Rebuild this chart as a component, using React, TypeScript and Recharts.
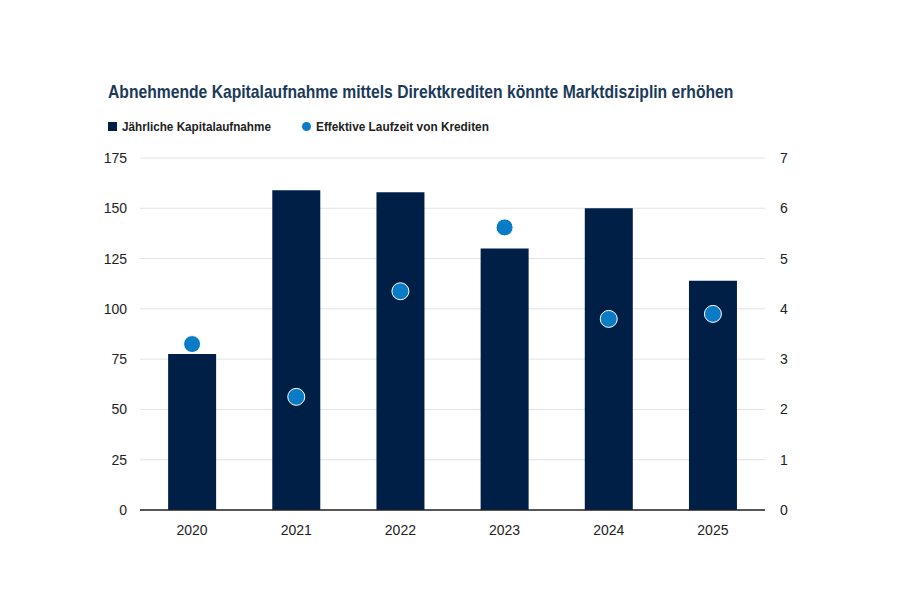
import { ComposedChart, Bar, Scatter, XAxis, YAxis, CartesianGrid } from "recharts";

const YEARS = ["2020", "2021", "2022", "2023", "2024", "2025"];
const KAPITAL = [77.5, 159, 158, 130, 150, 114];
const LAUFZEIT = [3.3, 2.25, 4.35, 5.62, 3.8, 3.9];
const LEFT_TICKS = [0, 25, 50, 75, 100, 125, 150, 175];
const RIGHT_TICKS = [0, 1, 2, 3, 4, 5, 6, 7];

const NAVY = "#001f47";
const BLUE = "#0a7cc6";
const FONT = "'Liberation Sans', Arial, sans-serif";

const data = YEARS.map((year, i) => ({ year, kapital: KAPITAL[i], laufzeit: LAUFZEIT[i] }));

const tick = { fontSize: 14, fill: "#222", fontFamily: FONT };

const Dot = (props: any) => (
  <circle cx={props.cx} cy={props.cy} r={8.5} fill={BLUE} stroke="#fff" strokeWidth={1} />
);

export default function App() {
  return (
    <div style={{ position: "relative", width: 900, height: 600, margin: -8, background: "#fff", fontFamily: FONT }}>
      <div
        style={{
          position: "absolute",
          left: 108,
          top: 81,
          fontSize: 19,
          fontWeight: 700,
          color: "#1b3a5a",
          whiteSpace: "nowrap",
          transform: "scaleX(0.825)",
          transformOrigin: "left top",
        }}
      >
        Abnehmende Kapitalaufnahme mittels Direktkrediten könnte Marktdisziplin erhöhen
      </div>
      <div
        style={{
          position: "absolute",
          left: 108,
          top: 119,
          fontSize: 13,
          fontWeight: 700,
          color: "#222",
          display: "flex",
          alignItems: "center",
          whiteSpace: "nowrap",
        }}
      >
        <span style={{ width: 9, height: 9, background: NAVY, display: "inline-block", marginRight: 5 }} />
        <span style={{ display: "inline-block", width: 180, transform: "scaleX(0.9)", transformOrigin: "left center" }}>
          Jährliche Kapitalaufnahme
        </span>
        <span style={{ width: 9, height: 9, borderRadius: "50%", background: BLUE, display: "inline-block", marginRight: 5 }} />
        <span style={{ display: "inline-block", transform: "scaleX(0.91)", transformOrigin: "left center" }}>
          Effektive Laufzeit von Krediten
        </span>
      </div>
      <ComposedChart
        width={900}
        height={600}
        data={data}
        margin={{ top: 158, right: 75, bottom: 60, left: 80 }}
        barCategoryGap="27%"
      >
        <CartesianGrid vertical={false} stroke="#e3e3e3" yAxisId="left" />
        <XAxis
          dataKey="year"
          tick={tick}
          tickLine={false}
          axisLine={{ stroke: "#222", strokeWidth: 1.5 }}
          tickSize={0}
          tickMargin={15}
          height={30}
        />
        <YAxis
          yAxisId="left"
          domain={[0, 175]}
          ticks={LEFT_TICKS}
          tick={tick}
          tickLine={false}
          axisLine={false}
          tickSize={0}
          tickMargin={13}
          width={60}
        />
        <YAxis
          yAxisId="right"
          orientation="right"
          domain={[0, 7]}
          ticks={RIGHT_TICKS}
          tick={tick}
          tickLine={false}
          axisLine={false}
          tickSize={0}
          tickMargin={15}
          width={60}
        />
        <Bar yAxisId="left" dataKey="kapital" fill={NAVY} isAnimationActive={false} />
        <Scatter yAxisId="right" dataKey="laufzeit" shape={Dot} isAnimationActive={false} />
      </ComposedChart>
    </div>
  );
}
